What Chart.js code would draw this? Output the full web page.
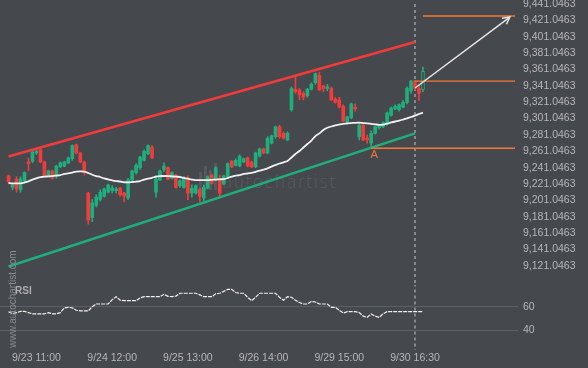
<!DOCTYPE html>
<html lang="en">
<head>
<meta charset="UTF-8" />
<title>Channel up - candles with RSI</title>
<script src="https://cdn.jsdelivr.net/npm/chart.js@4.4.1/dist/chart.umd.min.js"></script>
<style>
  html, body { margin: 0; padding: 0; background: #45484d; }
  #wrap { position: relative; width: 588px; height: 368px; overflow: hidden; background: #45484d; font-family: "Liberation Sans", Arial, sans-serif; }
  canvas { position: absolute; left: 0; z-index: 2; }
  #main { top: 0; }
  #rsiChart { top: 285px; }
  #wmText { position: absolute; left: 222px; top: 172px; z-index: 1; color: #595c61; font: 200 17px "DejaVu Sans", sans-serif; letter-spacing: 1px; }
  .wmBar { position: absolute; z-index: 1; width: 3px; background: #55585d; }
  #rsiTitle { position: absolute; left: 15px; top: 285px; z-index: 3; color: #a9abae; font: bold 10px "Liberation Sans", Arial, sans-serif; }
  #site { position: absolute; left: -37px; top: 293px; width: 100px; height: 12px; line-height: 12px; text-align: center; z-index: 3;
          color: #8a8d91; font: 10px "Liberation Sans", Arial, sans-serif; transform: rotate(-90deg); }
</style>
</head>
<body>
<div id="wrap">
  <div class="wmBar" style="left:199px;top:172px;height:18px"></div>
  <div class="wmBar" style="left:204px;top:166px;height:24px"></div>
  <div class="wmBar" style="left:209px;top:170px;height:20px"></div>
  <div class="wmBar" style="left:214px;top:163px;height:27px"></div>
  <div id="wmText">autochartist</div>
  <canvas id="main" width="588" height="285"></canvas>
  <canvas id="rsiChart" width="588" height="83"></canvas>
  <div id="rsiTitle">RSI</div>
  <div id="site">www.autochartist.com</div>
</div>
<script>
// tick labels
const xTickIdx = [7, 26, 45, 64, 83, 102];
const xTickLabels = ['9/23 11:00', '9/24 12:00', '9/25 13:00', '9/26 14:00', '9/29 15:00', '9/30 16:30'];
const priceTicks = [9121.0463, 9141.0463, 9161.0463, 9181.0463, 9201.0463, 9221.0463, 9241.0463, 9261.0463,
  9281.0463, 9301.0463, 9321.0463, 9341.0463, 9361.0463, 9381.0463, 9401.0463, 9421.0463, 9441.0463];
const rsiLevels = [40, 60];

// candles
const open = [9231, 9217, 9227, 9214, 9225, 9248, 9249, 9259, 9263, 9248,
  9232, 9237, 9230, 9242, 9243, 9247, 9252, 9269, 9259, 9248,
  9210, 9180, 9195, 9202, 9206, 9211, 9213, 9213, 9216, 9210,
  9204, 9226, 9235, 9241, 9250, 9258, 9266, 9211, 9226, 9239,
  9241, 9228, 9232, 9219, 9217, 9228, 9210, 9210, 9214, 9204,
  9216, 9232, 9226, 9228, 9221, 9230, 9249, 9244, 9243, 9248,
  9253, 9248, 9242, 9255, 9264, 9259, 9271, 9279, 9291, 9283,
  9275, 9312, 9337, 9336, 9332, 9329, 9337, 9345, 9354, 9341,
  9338, 9338, 9325, 9324, 9316, 9297, 9302, 9315, 9279, 9293,
  9277, 9271, 9283, 9290, 9291, 9294, 9305, 9313, 9312, 9315,
  9321, 9335, 9347, 9338, 9336];
const high = [9232, 9222, 9230, 9230, 9236, 9253, 9263, 9265, 9264, 9249,
  9238, 9238, 9244, 9248, 9249, 9254, 9269, 9270, 9260, 9249,
  9211, 9202, 9208, 9214, 9216, 9221, 9219, 9217, 9217, 9211,
  9228, 9238, 9246, 9255, 9263, 9269, 9268, 9231, 9238, 9247,
  9242, 9236, 9233, 9226, 9230, 9231, 9220, 9220, 9216, 9220,
  9231, 9233, 9242, 9232, 9232, 9247, 9250, 9252, 9257, 9253,
  9254, 9249, 9260, 9265, 9265, 9279, 9281, 9292, 9293, 9285,
  9285, 9340, 9352, 9338, 9334, 9338, 9345, 9357, 9358, 9342,
  9343, 9340, 9327, 9327, 9318, 9304, 9320, 9319, 9294, 9294,
  9281, 9286, 9292, 9294, 9297, 9309, 9315, 9318, 9319, 9323,
  9340, 9348, 9348, 9341, 9364];
const low = [9221, 9214, 9211, 9211, 9222, 9237, 9247, 9257, 9247, 9231,
  9230, 9227, 9228, 9241, 9242, 9246, 9250, 9258, 9247, 9232,
  9172, 9175, 9193, 9200, 9205, 9210, 9210, 9210, 9206, 9199,
  9202, 9225, 9233, 9239, 9249, 9257, 9252, 9205, 9225, 9236,
  9226, 9227, 9216, 9217, 9216, 9202, 9205, 9209, 9199, 9200,
  9215, 9221, 9225, 9204, 9220, 9228, 9241, 9243, 9242, 9247,
  9242, 9241, 9241, 9254, 9258, 9258, 9270, 9277, 9277, 9276,
  9274, 9310, 9332, 9324, 9324, 9327, 9336, 9343, 9335, 9334,
  9335, 9323, 9320, 9314, 9297, 9294, 9301, 9310, 9275, 9274,
  9271, 9265, 9282, 9288, 9290, 9293, 9304, 9312, 9310, 9314,
  9319, 9332, 9336, 9323, 9334];
const close = [9224, 9220, 9215, 9227, 9235, 9246, 9260, 9261, 9248, 9232,
  9237, 9228, 9243, 9247, 9248, 9253, 9268, 9259, 9248, 9235,
  9177, 9198, 9205, 9211, 9215, 9220, 9216, 9215, 9208, 9206,
  9226, 9237, 9244, 9254, 9261, 9268, 9253, 9227, 9237, 9243,
  9227, 9235, 9217, 9225, 9228, 9210, 9216, 9219, 9206, 9217,
  9230, 9222, 9241, 9210, 9231, 9246, 9242, 9250, 9255, 9252,
  9243, 9242, 9259, 9264, 9259, 9277, 9280, 9291, 9279, 9277,
  9283, 9338, 9334, 9330, 9327, 9337, 9343, 9356, 9336, 9338,
  9340, 9324, 9321, 9315, 9298, 9303, 9319, 9313, 9293, 9275,
  9275, 9283, 9291, 9292, 9296, 9308, 9314, 9316, 9318, 9321,
  9338, 9347, 9338, 9332, 9359];

// moving average (white line)
const ma = [9222.3, 9221.9, 9221.9, 9221.9, 9222.9, 9224.3, 9226.3, 9228.0, 9229.6, 9230.0,
  9230.4, 9230.8, 9231.4, 9232.0, 9233.3, 9234.1, 9235.1, 9236.1, 9236.6, 9236.3,
  9234.5, 9232.4, 9230.8, 9229.6, 9227.8, 9226.8, 9225.6, 9224.7, 9224.1, 9223.2,
  9223.1, 9223.5, 9224.0, 9224.7, 9226.5, 9227.6, 9228.6, 9230.1, 9230.8, 9230.8,
  9230.8, 9230.4, 9230.0, 9229.6, 9228.4, 9227.5, 9226.5, 9225.9, 9225.9, 9225.9,
  9225.9, 9226.2, 9226.5, 9226.8, 9227.1, 9228.4, 9230.2, 9231.4, 9232.0, 9233.3,
  9233.9, 9234.7, 9236.0, 9237.3, 9238.5, 9240.2, 9242.4, 9244.3, 9246.1, 9247.6,
  9249.2, 9253.5, 9257.7, 9261.4, 9265.7, 9270.0, 9274.2, 9279.7, 9283.0, 9287.1,
  9289.8, 9291.4, 9292.8, 9293.8, 9294.7, 9295.3, 9295.6, 9295.9, 9296.0, 9295.6,
  9295.3, 9294.7, 9294.1, 9293.4, 9293.8, 9295.0, 9296.3, 9297.5, 9298.5, 9299.9,
  9301.4, 9303.0, 9304.6, 9306.7, 9308.3];

// RSI panel
const rsi = [55.8, 54, 55, 56, 56, 55, 54, 54, 54, 54,
  55, 54, 54, 55, 59, 59.5, 59, 57, 56.4, 56.4,
  56.4, 60, 62.3, 62.3, 62.3, 62.3, 66, 68.5, 65.5, 65.1,
  65.1, 65.1, 65.1, 67.5, 68.5, 68.5, 68.5, 68.5, 68.5, 70.5,
  68.8, 68.5, 69, 71.4, 71.4, 71.4, 71.4, 71.4, 70, 68.5,
  68.5, 68.5, 71, 71.4, 73, 74.7, 74.7, 72, 71.4, 71.4,
  68, 65.1, 68, 71.4, 71.4, 71.4, 71.4, 71.4, 68, 65.5,
  68.5, 68, 65.5, 63.5, 62.3, 62.3, 64.5, 64, 62.3, 62.3,
  62.3, 59.5, 59.5, 57, 54.6, 55.8, 55.8, 55.8, 55, 52,
  51, 53.8, 52, 51, 54, 55.8, 55.8, 55.8, 55.8, 55.8,
  55.8, 55.8, 55.8, 55.8, 55.8];

// channel and pattern levels
const channelIdx = [0, 102];
const resistance = [9254.7, 9394.7];
const support = [9120.1, 9283.0];
const levelTarget = 9426.5;
const levelLast = 9347.0;
const levelPattern = 9264.7;
const arrowIdx = [102, 125.8];
const arrowVal = [9338.5, 9425.3];
const eventIdx = 102;
const patternIdx = 91;
const levelEndIdx = 127.1;

const GREEN = '#1fae7c', RED = '#f23c3c', ORANGE = '#f27a35', TXT = '#b5b7ba', BG = '#45484d';
const X_MIN = -2.15, X_MAX = 127.85;
const labelFont = { family: '"Liberation Sans", Arial, sans-serif', size: 10.5 };

const idx = open.map((_, i) => i);
const last = open.length - 1;
const candleColor = idx.map(i => close[i] >= open[i] ? GREEN : RED);

// fixed axis width, no label padding so both panels line up
function fixY(s) { s.width = 70; s.paddingTop = 0; s.paddingBottom = 0; }

const markers = {
  id: 'markers',
  afterDatasetsDraw(chart) {
    const { ctx, scales: { x, y } } = chart;
    const x1 = x.getPixelForValue(arrowIdx[0]), y1 = y.getPixelForValue(arrowVal[0]);
    const x2 = x.getPixelForValue(arrowIdx[1]), y2 = y.getPixelForValue(arrowVal[1]);
    const a = Math.atan2(y2 - y1, x2 - x1);
    ctx.save();
    ctx.strokeStyle = '#e6e6e6';
    ctx.lineWidth = 1.5;
    ctx.beginPath();
    ctx.moveTo(x2 - 8 * Math.cos(a - 0.5), y2 - 8 * Math.sin(a - 0.5));
    ctx.lineTo(x2, y2);
    ctx.lineTo(x2 - 8 * Math.cos(a + 0.5), y2 - 8 * Math.sin(a + 0.5));
    ctx.stroke();
    ctx.fillStyle = ORANGE;
    ctx.font = '11px "DejaVu Sans", sans-serif';
    ctx.textAlign = 'center';
    ctx.textBaseline = 'middle';
    ctx.fillText('A', x.getPixelForValue(patternIdx + 0.8), y.getPixelForValue(levelPattern) + 7);
    ctx.restore();
  }
};

function flat(i0, i1, v) { return [{ x: i0, y: v }, { x: i1, y: v }]; }

new Chart(document.getElementById('main'), {
  type: 'bar',
  data: {
    datasets: [
      { type: 'line', data: [{ x: arrowIdx[0], y: arrowVal[0] }, { x: arrowIdx[1], y: arrowVal[1] }],
        borderColor: '#e6e6e6', borderWidth: 1.5, pointRadius: 0, order: 0 },
      { type: 'line', data: flat(last, levelEndIdx, levelTarget), borderColor: ORANGE, borderWidth: 1.5, pointRadius: 0, order: 1 },
      { type: 'line', data: flat(eventIdx, levelEndIdx, levelLast), borderColor: ORANGE, borderWidth: 1.2, pointRadius: 0, order: 1 },
      { type: 'line', data: flat(patternIdx, levelEndIdx, levelPattern), borderColor: ORANGE, borderWidth: 1.5, pointRadius: 0, order: 1 },
      { type: 'line', data: channelIdx.map((v, k) => ({ x: v, y: resistance[k] })), borderColor: RED, borderWidth: 2.5, pointRadius: 0, order: 2 },
      { type: 'line', data: channelIdx.map((v, k) => ({ x: v, y: support[k] })), borderColor: GREEN, borderWidth: 2.5, pointRadius: 0, order: 2 },
      { type: 'line', data: idx.map(i => ({ x: i, y: ma[i] })), borderColor: '#f2f2f2', borderWidth: 1.8, pointRadius: 0, tension: 0.3, order: 3 },
      { data: idx.map(i => ({ x: i, y: [open[i], close[i]] })), grouped: false, barThickness: 3, minBarLength: 1,
        backgroundColor: ctx => ctx.dataIndex === last ? BG : candleColor[ctx.dataIndex],
        borderColor: ctx => candleColor[ctx.dataIndex],
        borderWidth: ctx => ctx.dataIndex === last ? 1 : 0, borderSkipped: false, order: 4 },
      { data: idx.map(i => ({ x: i, y: [low[i], high[i]] })), grouped: false, barThickness: 1,
        backgroundColor: ctx => candleColor[ctx.dataIndex], order: 5 },
      { type: 'line', data: [{ x: eventIdx, y: 9441.2 }, { x: eventIdx, y: 9000 }], borderColor: '#c9cacc', borderWidth: 1,
        borderDash: [3, 3], pointRadius: 0, order: 6 }
    ]
  },
  options: {
    responsive: false,
    animation: false,
    devicePixelRatio: 1,
    plugins: { legend: { display: false }, tooltip: { enabled: false } },
    scales: {
      x: { type: 'linear', min: X_MIN, max: X_MAX, offset: false, display: false },
      y: {
        position: 'right', min: 9097.5, max: 9446.13,
        grid: { display: false, drawTicks: false }, border: { display: false },
        afterBuildTicks: s => { s.ticks = priceTicks.map(v => ({ value: v })); },
        afterFit: fixY,
        ticks: { padding: 5, color: TXT, font: labelFont,
          callback: v => v.toLocaleString('en-US', { minimumFractionDigits: 4, maximumFractionDigits: 4 }) }
      }
    }
  },
  plugins: [markers]
});

new Chart(document.getElementById('rsiChart'), {
  type: 'line',
  data: {
    datasets: [
      { data: idx.map(i => ({ x: i, y: rsi[i] })), borderColor: '#f0f0f0', borderWidth: 1.2, borderDash: [4, 1],
        pointRadius: 0, order: 0 },
      { data: [{ x: eventIdx, y: 100 }, { x: eventIdx, y: 0 }], borderColor: '#c9cacc', borderWidth: 1,
        borderDash: [3, 3], pointRadius: 0, order: 1 }
    ]
  },
  options: {
    responsive: false,
    animation: false,
    devicePixelRatio: 1,
    plugins: { legend: { display: false }, tooltip: { enabled: false } },
    scales: {
      x: {
        type: 'linear', min: X_MIN, max: X_MAX, offset: false, position: 'bottom',
        grid: { display: false, drawTicks: false }, border: { display: false },
        afterBuildTicks: s => { s.ticks = xTickIdx.map(v => ({ value: v })); },
        afterFit: s => { s.height = 18; s.paddingLeft = 0; s.paddingRight = 0; },
        ticks: { padding: 2, color: TXT, font: labelFont, autoSkip: false, maxRotation: 0,
          callback: v => xTickLabels[xTickIdx.indexOf(v)] }
      },
      y: {
        position: 'right', min: 23.3, max: 78.4,
        grid: { color: '#5d6065', drawTicks: false }, border: { display: false },
        afterBuildTicks: s => { s.ticks = rsiLevels.map(v => ({ value: v })); },
        afterFit: fixY,
        ticks: { padding: 5, color: TXT, font: labelFont }
      }
    }
  }
});
</script>
</body>
</html>
